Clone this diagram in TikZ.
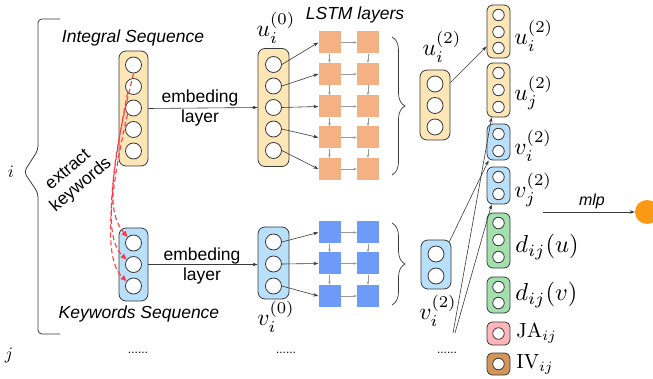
\documentclass[tikz,border=0pt]{standalone}
\usepackage{fontspec}
\newfontfamily\arialf{Liberation Sans}
\usetikzlibrary{arrows.meta,decorations.pathreplacing,calc}
\definecolor{ubox}{HTML}{FDE6B6}
\definecolor{vbox}{HTML}{B8E0FA}
\definecolor{gbox}{HTML}{A2E0AE}
\definecolor{pbox}{HTML}{FFB5BA}
\definecolor{bbox}{HTML}{D39558}
\definecolor{osq}{HTML}{F4B183}
\definecolor{bsq}{HTML}{6F9BF8}
\definecolor{edgec}{HTML}{3A3A3A}
\definecolor{reddash}{HTML}{FF3B4A}
\definecolor{outc}{HTML}{FA9A14}
\tikzset{
  vecbox/.style={draw=edgec, line width=0.8pt, rounded corners=7pt, inner sep=0pt},
  cell/.style={circle, draw=edgec, fill=white, line width=0.8pt, minimum size=16pt, inner sep=0pt},
  scell/.style={cell, minimum size=11.5pt},
  sq/.style={minimum size=22pt, inner sep=0pt},
  feed/.style={draw=edgec, line width=0.6pt, -{Stealth[length=5pt,width=3.5pt]}},
  rec/.style={draw=gray!80, line width=0.5pt, -{Stealth[length=3.5pt,width=2.5pt]}},
  lbl/.style={font=\fontsize{17.5}{20}\selectfont\arialf, align=center, inner sep=0pt},
  ilbl/.style={font=\fontsize{17.5}{20}\selectfont\arialf\itshape, inner sep=0pt},
  ijlbl/.style={font=\normalsize, scale=1.75, inner sep=0pt},
  mlbl/.style={font=\normalsize, scale=2.35, inner sep=0pt},
  dlbl/.style={font=\normalsize, scale=2.45, inner sep=0pt},
  rlbl/.style={font=\normalsize, scale=2.05, inner sep=0pt},
  dots/.style={font=\fontsize{12}{12}\selectfont\arialf, inner sep=0pt},
  redarrow/.style={draw=reddash, line width=1.1pt, dash pattern=on 5pt off 3pt, -{Triangle[length=6pt,width=5pt]}},
  bracec/.style={draw=edgec, line width=0.7pt, decorate, decoration={brace, amplitude=13pt}}
}
\begin{document}
\begin{tikzpicture}[x=1pt,y=-1pt]
\fill[white] (0,0) rectangle (653,379);
\useasboundingbox (0,0) rectangle (653,379);

% left brace and indices
\draw[edgec, line width=0.8pt, rounded corners=4pt] (60,19) -- (38,19) -- (38,150) -- (24,172) -- (38,193) -- (38,334) -- (60,334);
\node[ijlbl] (li) at (11,172) {$i$};
\node[ijlbl] (lj) at (9,355) {$j$};

% input sequences
\node[ilbl] (tint) at (133,38) {Integral Sequence};
\node[ilbl] (tkw) at (139,314) {Keywords Sequence};
\node[lbl, rotate=40] (ek) at (75,178) {extract\\keywords};

\node[vecbox, fill=ubox, minimum width=29pt, minimum height=115pt] (ib) at (133.5,108.5) {};
\foreach \k/\y in {1/65,2/86.5,3/108,4/129.5,5/151} \node[cell] (ic\k) at (133.5,\y) {};
\node[vecbox, fill=vbox, minimum width=29pt, minimum height=73pt] (kb) at (133.5,264.5) {};
\foreach \k/\y in {1/243,2/264.5,3/286} \node[cell] (kc\k) at (133.5,\y) {};

% red dashed keyword extraction
\draw[redarrow] (ic1.south) .. controls (110,170) and (106,212) .. (kc1.north west);
\draw[redarrow] (ic2.south west) .. controls (110,185) and (104,238) .. (kc2.145);
\draw[redarrow] (ic3.south west) .. controls (108,200) and (104,260) .. (kc3.145);

% embedding layer 0
\node[vecbox, fill=ubox, minimum width=31pt, minimum height=118pt] (ub0) at (273.5,107.5) {};
\foreach \k/\y in {1/64.5,2/86,3/107.5,4/129,5/150.5} \node[cell] (uc\k) at (273.5,\y) {};
\node[vecbox, fill=vbox, minimum width=31pt, minimum height=72pt] (vb0) at (273.5,263) {};
\foreach \k/\y in {1/242,2/264,3/286} \node[cell] (vc\k) at (273.5,\y) {};
\node[mlbl] (lu0) at (276,28) {$u_i^{(0)}$};
\node[mlbl] (lv0) at (276,317) {$v_i^{(0)}$};

\draw[feed] (ib.east) -- (ub0.west);
\node[lbl] (emb1) at (200,108) {embeding\\layer};
\draw[feed] (kb.east) -- (vb0.west |- kb.east);
\node[lbl] (emb2) at (202,266) {embeding\\layer};

% LSTM layers
\node[ilbl] (tlstm) at (355,15) {LSTM layers};
\foreach \r/\y in {1/42.5,2/74,3/106.5,4/137.5,5/169} {
  \node[sq, fill=osq] (oa\r) at (329.5,\y) {};
  \node[sq, fill=osq] (ob\r) at (368,\y) {};
  \draw[rec] (oa\r) -- (ob\r);
  \draw[feed] (uc\r.east) -- (oa\r.west);
}
\foreach \r/\s in {1/2,2/3,3/4,4/5} {
  \draw[rec] (oa\r) -- (oa\s);
  \draw[rec] (ob\r) -- (ob\s);
}
\foreach \r/\y in {1/232.5,2/263.5,3/296} {
  \node[sq, fill=bsq] (ba\r) at (329.5,\y) {};
  \node[sq, fill=bsq] (bb\r) at (368,\y) {};
  \draw[rec] (ba\r) -- (bb\r);
  \draw[feed] (vc\r.east) -- (ba\r.west);
}
\foreach \r/\s in {1/2,2/3} {
  \draw[rec] (ba\r) -- (ba\s);
  \draw[rec] (bb\r) -- (bb\s);
}
\draw[bracec] (392,37) -- (392,175);
\draw[bracec] (392,223) -- (392,305);

% layer-2 vectors
\node[vecbox, fill=ubox, minimum width=30pt, minimum height=70pt] (ub2) at (435,105) {};
\foreach \k/\y in {1/84,2/105.5,3/127} \node[cell] (u2c\k) at (435,\y) {};
\node[mlbl] (lu2) at (442,47) {$u_i^{(2)}$};
\node[vecbox, fill=vbox, minimum width=30pt, minimum height=49pt] (vb2) at (436,264.5) {};
\foreach \k/\y in {1/254,2/276} \node[cell] (v2c\k) at (436,\y) {};
\node[mlbl] (lv2) at (438,311) {$v_i^{(2)}$};

% right column features
\node[vecbox, fill=ubox, minimum width=23pt, minimum height=53pt, rounded corners=6pt] (r1) at (498.5,31.5) {};
\foreach \k/\y in {1/15,2/32,3/48} \node[scell] (r1c\k) at (498.5,\y) {};
\node[vecbox, fill=ubox, minimum width=23pt, minimum height=54pt, rounded corners=6pt] (r2) at (498.5,90) {};
\foreach \k/\y in {1/73,2/90,3/107} \node[scell] (r2c\k) at (498.5,\y) {};
\node[vecbox, fill=vbox, minimum width=23pt, minimum height=36pt, rounded corners=6pt] (r3) at (498.5,142) {};
\foreach \k/\y in {1/134,2/151} \node[scell] (r3c\k) at (498.5,\y) {};
\node[vecbox, fill=vbox, minimum width=23pt, minimum height=37pt, rounded corners=6pt] (r4) at (498.5,185.5) {};
\foreach \k/\y in {1/177,2/194} \node[scell] (r4c\k) at (498.5,\y) {};
\node[vecbox, fill=gbox, minimum width=23pt, minimum height=55pt, rounded corners=6pt] (r5) at (498.5,240.5) {};
\foreach \k/\y in {1/223,2/240,3/257} \node[scell] (r5c\k) at (498.5,\y) {};
\node[vecbox, fill=gbox, minimum width=23pt, minimum height=36pt, rounded corners=6pt] (r6) at (498.5,295) {};
\foreach \k/\y in {1/287,2/303} \node[scell] (r6c\k) at (498.5,\y) {};
\node[vecbox, fill=pbox, minimum width=23pt, minimum height=23pt, rounded corners=5pt] (r7) at (498.5,333.5) {};
\node[scell] (r7c1) at (498.5,333.5) {};
\node[vecbox, fill=bbox, minimum width=23pt, minimum height=22pt, rounded corners=5pt] (r8) at (498.5,364) {};
\node[scell] (r8c1) at (498.5,364) {};

\node[mlbl, anchor=west] (l1) at (514,36) {$u_i^{(2)}$};
\node[mlbl, anchor=west] (l2) at (514,93) {$u_j^{(2)}$};
\node[mlbl, anchor=west] (l3) at (514,146) {$v_i^{(2)}$};
\node[mlbl, anchor=west] (l4) at (514,190) {$v_j^{(2)}$};
\node[dlbl, anchor=west] (l5) at (515,247) {$d_{ij}(u)$};
\node[dlbl, anchor=west] (l6) at (515,295) {$d_{ij}(v)$};
\node[rlbl, anchor=west] (l7) at (516,333) {$\mathrm{JA}_{ij}$};
\node[rlbl, anchor=west] (l8) at (516,364) {$\mathrm{IV}_{ij}$};

% connections to features
\draw[feed] ([yshift=-13pt]ub2.north east) -- ([yshift=12pt]r1.south west);
\draw[feed] ([xshift=-2pt,yshift=-2pt]vb2.north east) -- ([xshift=2pt]r3.south west);
\coordinate (jpt) at (453,333);
\draw[feed] (jpt) -- ([xshift=5pt]r2.south west);
\draw[feed] ([xshift=2pt]jpt) -- ([xshift=5pt]r4.south west);

% mlp output
\coordinate (mlps) at (543,212);
\node[circle, fill=outc, minimum size=24pt, inner sep=0pt] (out) at (647,212) {};
\draw[feed] (mlps) -- (out);
\node[ilbl, font=\fontsize{16}{18}\selectfont\arialf\itshape] (tmlp) at (592,201) {mlp};

% dots
\node[dots] (d1) at (138,353) {......};
\node[dots] (d2) at (286,353) {......};
\node[dots] (d3) at (447,353) {......};
\end{tikzpicture}
\end{document}
